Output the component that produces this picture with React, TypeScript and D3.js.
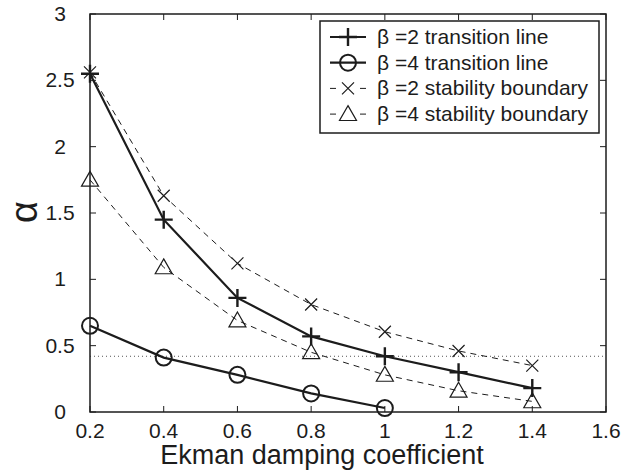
import React from "react";
import * as d3 from "d3";

const xValues = [0.2, 0.4, 0.6, 0.8, 1.0, 1.2, 1.4];
const beta2Transition = [2.55, 1.45, 0.86, 0.57, 0.42, 0.3, 0.18];
const beta4Transition = [0.65, 0.41, 0.28, 0.14, 0.03];
const beta2Stability = [2.56, 1.63, 1.12, 0.81, 0.605, 0.46, 0.35];
const beta4Stability = [1.75, 1.09, 0.69, 0.45, 0.28, 0.16, 0.08];
const xTicks = [0.2, 0.4, 0.6, 0.8, 1, 1.2, 1.4, 1.6];
const yTicks = [0, 0.5, 1, 1.5, 2, 2.5, 3];
const refLine = 0.42;
const legendLabels = [
  "β =2 transition line",
  "β =4 transition line",
  "β =2 stability boundary",
  "β =4 stability boundary",
];

const W = 632;
const H = 472;
const L = 90, R = 606, T = 14, B = 412;
const FONT = "'Liberation Sans', Arial, Helvetica, sans-serif";
const INK = "#1c1c1c";

const x = d3.scaleLinear().domain([0.2, 1.6]).range([L, R]);
const y = d3.scaleLinear().domain([0, 3]).range([B, T]);

type MarkerKind = "plus" | "circle" | "cross" | "tri";

function Marker({ kind, cx, cy }: { kind: MarkerKind; cx: number; cy: number }) {
  if (kind === "plus") {
    const s = 9;
    return (
      <path d={`M${cx - s},${cy}H${cx + s}M${cx},${cy - s}V${cy + s}`} stroke={INK} strokeWidth={2.4} fill="none" />
    );
  }
  if (kind === "circle") {
    return <circle cx={cx} cy={cy} r={8} stroke={INK} strokeWidth={2} fill="none" />;
  }
  if (kind === "cross") {
    const s = 6;
    return (
      <path d={`M${cx - s},${cy - s}L${cx + s},${cy + s}M${cx - s},${cy + s}L${cx + s},${cy - s}`} stroke={INK} strokeWidth={1.2} fill="none" />
    );
  }
  const s = 8.5;
  return (
    <path d={`M${cx},${cy - s}L${cx + s},${cy + s * 0.75}L${cx - s},${cy + s * 0.75}Z`} stroke={INK} strokeWidth={1.2} fill="none" />
  );
}

const seriesList: { values: number[]; kind: MarkerKind; dashed: boolean }[] = [
  { values: beta2Transition, kind: "plus", dashed: false },
  { values: beta4Transition, kind: "circle", dashed: false },
  { values: beta2Stability, kind: "cross", dashed: true },
  { values: beta4Stability, kind: "tri", dashed: true },
];

export default function App() {
  const line = d3
    .line<number>()
    .x((_, i) => x(xValues[i]))
    .y((d) => y(d));
  const tickLen = 6;
  return (
    <svg width={W} height={H} style={{ position: "absolute", left: 0, top: 0, background: "#fff" }} fontFamily={FONT}>
      <rect x={0} y={0} width={W} height={H} fill="#fff" />
      {/* reference dotted line */}
      <line x1={L} x2={R} y1={y(refLine)} y2={y(refLine)} stroke="#555" strokeWidth={1} strokeDasharray="1,3" />
      {/* ticks */}
      {xTicks.map((t) => (
        <g key={"xt" + t}>
          <line x1={x(t)} x2={x(t)} y1={B} y2={B - tickLen} stroke={INK} strokeWidth={1} />
          <line x1={x(t)} x2={x(t)} y1={T} y2={T + tickLen} stroke={INK} strokeWidth={1} />
          <text x={x(t)} y={438} textAnchor="middle" fontSize={21} fill={INK}>
            {d3.format("")(t)}
          </text>
        </g>
      ))}
      {yTicks.map((t) => (
        <g key={"yt" + t}>
          <line x1={L} x2={L + tickLen} y1={y(t)} y2={y(t)} stroke={INK} strokeWidth={1} />
          <line x1={R} x2={R - tickLen} y1={y(t)} y2={y(t)} stroke={INK} strokeWidth={1} />
          <text x={60} y={y(t) + 7} textAnchor="middle" fontSize={21} fill={INK}>
            {d3.format("")(t)}
          </text>
        </g>
      ))}
      {/* series */}
      {seriesList.map((s, si) => (
        <g key={"s" + si}>
          <path
            d={line(s.values) || ""}
            fill="none"
            stroke={INK}
            strokeWidth={s.dashed ? 1 : 2.2}
            strokeDasharray={s.dashed ? "6,5" : undefined}
          />
          {s.values.map((v, i) => (
            <Marker key={i} kind={s.kind} cx={x(xValues[i])} cy={y(v)} />
          ))}
        </g>
      ))}
      {/* frame */}
      <rect x={L} y={T} width={R - L} height={B - T} fill="none" stroke={INK} strokeWidth={1.5} />
      {/* legend */}
      <rect x={320} y={21} width={279} height={112} fill="#fff" stroke={INK} strokeWidth={1.5} />
      {seriesList.map((s, i) => {
        const ly = 37 + i * 25.7;
        return (
          <g key={"lg" + i}>
            {s.dashed ? (
              <>
                <line x1={330} x2={336} y1={ly} y2={ly} stroke={INK} strokeWidth={1} />
                <line x1={360} x2={366} y1={ly} y2={ly} stroke={INK} strokeWidth={1} />
              </>
            ) : (
              <line x1={330} x2={366} y1={ly} y2={ly} stroke={INK} strokeWidth={2.2} />
            )}
            <Marker kind={s.kind} cx={348} cy={ly} />
            <text x={377} y={ly + 7} fontSize={21} fill={INK}>
              {legendLabels[i]}
            </text>
          </g>
        );
      })}
      {/* axis titles */}
      <text x={322} y={464} textAnchor="middle" fontSize={27} fill={INK}>
        Ekman damping coefficient
      </text>
      <text transform={`translate(37,212) rotate(-90)`} textAnchor="middle" fontSize={38} fill={INK}>
        α
      </text>
    </svg>
  );
}
